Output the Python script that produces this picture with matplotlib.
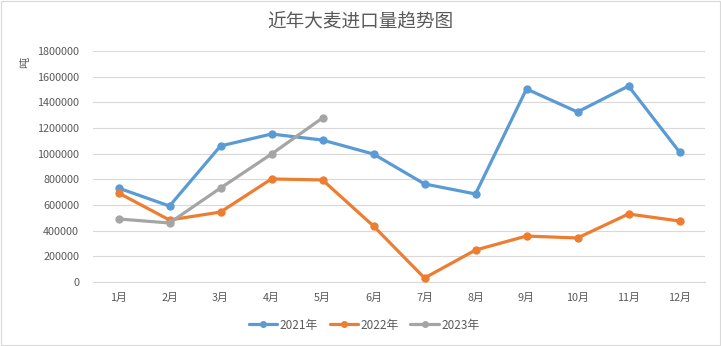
import matplotlib
matplotlib.use("Agg")
import matplotlib.pyplot as plt
from matplotlib.patches import Rectangle

plt.rcParams["font.family"] = ["Noto Sans CJK SC", "DejaVu Sans"]

months = ["1月", "2月", "3月", "4月", "5月", "6月", "7月", "8月", "9月", "10月", "11月", "12月"]
imports_2021 = [732000, 592000, 1060000, 1153000, 1106000, 997000, 764000, 686000, 1504000, 1325000, 1527000, 1013000]
imports_2022 = [694000, 483000, 545000, 803000, 795000, 436000, 31000, 249000, 358000, 343000, 530000, 475000]
imports_2023 = [491000, 460000, 732000, 997000, 1278000]
series = [("2021年", imports_2021, "#5B9BD5"),
          ("2022年", imports_2022, "#ED7D31"),
          ("2023年", imports_2023, "#A5A5A5")]

fig = plt.figure(figsize=(7.21, 3.46), dpi=100)
fig.patches.append(Rectangle((0.001, 0.002), 0.997, 0.995, transform=fig.transFigure,
                             fill=False, edgecolor="#D9D9D9", linewidth=0.8))
ax = fig.add_axes([93 / 721, 1 - 282 / 346, 612 / 721, 231 / 346])

for label, values, color in series:
    ax.plot(range(len(values)), values, color=color, linewidth=2.3, marker="o",
            markersize=5, label=label, solid_capstyle="round", zorder=3)

ax.set_xlim(-0.5, len(months) - 0.5)
ax.set_ylim(0, 1800000)
ax.set_yticks(range(0, 1800001, 200000))
ax.set_yticklabels([str(v) for v in range(0, 1800001, 200000)])
ax.set_xticks(range(len(months)))
ax.set_xticklabels(months)
ax.tick_params(axis="both", length=0, labelsize=7.8, labelcolor="#595959")
ax.tick_params(axis="y", pad=10)
ax.tick_params(axis="x", pad=8)
ax.grid(axis="y", color="#D9D9D9", linewidth=0.8)
ax.set_axisbelow(True)
for side in ["top", "right", "left"]:
    ax.spines[side].set_visible(False)
ax.spines["bottom"].set_color("#D9D9D9")
ax.spines["bottom"].set_linewidth(0.8)

fig.text(25 / 721, 1 - 62 / 346, "吨", rotation=90, ha="center", va="center",
         fontsize=8, color="#595959")
fig.text(360 / 721, 1 - 21 / 346, "近年大麦进口量趋势图", ha="center", va="center",
         fontsize=13.4, color="#595959")

fig.legend(loc="center", bbox_to_anchor=(364 / 721, 1 - 325 / 346), ncol=3, frameon=False,
           fontsize=8.5, labelcolor="#595959", handlelength=2.4, columnspacing=1.0,
           handletextpad=0.2, markerscale=0.8)

fig.savefig("out.png", dpi=100)
